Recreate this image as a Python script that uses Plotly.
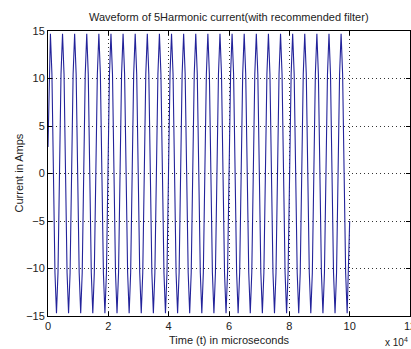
import plotly.graph_objects as go

# ---- data ----
peak_times = [800, 4815, 8830, 12845, 16860, 20875, 24890, 28905, 32920, 36935,
              40950, 44965, 48980, 52995, 57010, 61025, 65040, 69055, 73070, 77085,
              81100, 85115, 89130, 93145, 97160]
trough_times = [2810, 6820, 10840, 14850, 18870, 22880, 26900, 30910, 34930, 38940,
                42960, 46970, 50990, 55000, 59020, 63030, 67050, 71060, 75080, 79090,
                83110, 87120, 91140, 95150, 99170]
peak_values = [14.7] * 25
trough_values = [-14.7] * 25
start_point = (0, 2.8)
end_point = (100000, -5.0)
# shape of the swing between an extremum and the next one (fractions)
swing_fracs = [0.25, 0.5, 0.75]
swing_levels = [0.71, 0.0, -0.71]

x_tickvals = [0, 20000, 40000, 60000, 80000, 100000, 120000]
x_ticktext = ["0", "2", "4", "6", "8", "10", "12"]
y_tickvals = [-15, -10, -5, 0, 5, 10, 15]

# ---- build the vertex list ----
ext = []
for i in range(25):
    ext.append((peak_times[i], peak_values[i]))
    ext.append((trough_times[i], trough_values[i]))
t = [start_point[0]]
v = [start_point[1]]
for k, (ta, va) in enumerate(ext):
    t.append(ta); v.append(va)
    if k + 1 < len(ext):
        tb, vb = ext[k + 1]
        for f, lv in zip(swing_fracs, swing_levels):
            t.append(ta + f * (tb - ta))
            v.append(lv * va)
t.append(end_point[0]); v.append(end_point[1])

FONT = "Liberation Sans, Arial"
TXT = "#222"

fig = go.Figure()
fig.add_trace(go.Scatter(x=t, y=v, mode="lines",
                         line=dict(color="#23239a", width=1.1), showlegend=False))

axis_common = dict(showline=True, linecolor="black", linewidth=1, mirror="ticks",
                   ticks="inside", ticklen=4, tickcolor="black",
                   showgrid=True, gridcolor="#333", griddash="1px,3px", gridwidth=1,
                   zeroline=False, automargin=False, ticklabeloverflow="allow",
                   tickfont=dict(family=FONT, size=11, color=TXT))

fig.update_layout(
    width=411, height=349,
    margin=dict(l=48, r=1, t=31, b=33),
    paper_bgcolor="white", plot_bgcolor="white",
    xaxis=dict(range=[0, 120000], tickvals=x_tickvals, ticktext=x_ticktext, **axis_common),
    yaxis=dict(range=[-15, 15], tickvals=y_tickvals, **axis_common),
)
fig.add_annotation(text="Waveform of 5Harmonic current(with recommended filter)",
                   xref="paper", yref="paper", x=0.5, y=1, yshift=14,
                   xanchor="center", yanchor="middle", showarrow=False,
                   font=dict(family=FONT, size=11, color=TXT))
fig.add_annotation(text="Time (t) in microseconds", xref="paper", yref="paper",
                   x=0.5, y=0, yshift=-24, xanchor="center", yanchor="middle",
                   showarrow=False, font=dict(family=FONT, size=11, color=TXT))
fig.add_annotation(text="Current in Amps", xref="paper", yref="paper",
                   x=0, xshift=-30, y=0.5, textangle=-90, xanchor="center", yanchor="middle",
                   showarrow=False, font=dict(family=FONT, size=11, color=TXT))
fig.add_annotation(text="x 10<sup>4</sup>", xref="paper", yref="paper", x=1.0, y=0,
                   yshift=-26, xanchor="right", yanchor="middle", showarrow=False,
                   font=dict(family=FONT, size=10, color=TXT))

fig.write_html("out.html", config={"displayModeBar": False},
               post_script="document.body.style.margin='0';document.body.style.padding='0';"
                           "document.documentElement.style.overflow='hidden';")
